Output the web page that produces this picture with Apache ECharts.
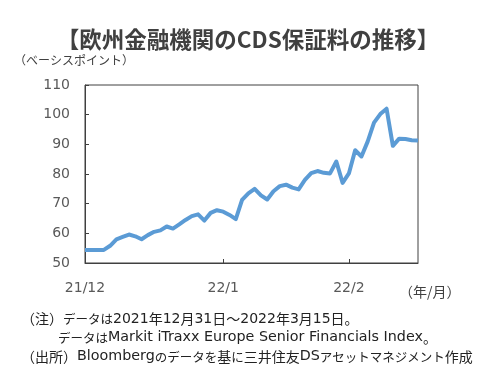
<!DOCTYPE html>
<html><head><meta charset="utf-8">
<script src="https://cdn.jsdelivr.net/npm/echarts@6/dist/echarts.min.js"></script>
<style>html,body{margin:0;padding:0;background:#fff}#c{width:496px;height:380px}</style>
</head><body><div id="c"></div>
<script>
// CDS spread (bp), 2021/12/31 - 2022/3/15
const cds = [54.4,54.4,54.4,54.4,55.8,58.0,58.8,59.6,59.0,58.0,
  59.4,60.5,61.0,62.3,61.6,63.0,64.5,65.8,66.4,64.3,
  66.9,67.8,67.3,66.2,64.8,71.3,73.5,75.0,72.8,71.4,
  74.2,75.9,76.4,75.4,74.8,78.0,80.3,81.0,80.4,80.2,
  84.2,77.0,80.2,88.0,85.9,91.0,97.3,100.2,102.0,89.5,
  91.9,91.8,91.4,91.3];
const tickIndex = [0, 22, 42];
const tickLabels = ['21/12', '22/1', '22/2'];
const categories = cds.map((_, i) => String(i));
const yMin = 50, yMax = 110, yStep = 10;

const noteLines = [
  '（注）データは2021年12月31日～2022年3月15日。',
  'データはMarkit iTraxx Europe Senior Financials Index。',
  '（出所）Bloombergのデータを基に三井住友DSアセットマネジメント作成'
];

const FONT = '"Noto Sans CJK JP", "Noto Sans", sans-serif';
const LFONT = '"DejaVu Sans", "Noto Sans CJK JP", sans-serif';

// split text into runs (kanji/punct, kana, digits, latin) for rich text
function richify(s) {
  const cls = (c) => /[\u3040-\u30ff]/.test(c) ? 'k' : /[0-9]/.test(c) ? 'd' : /[A-Za-z .]/.test(c) ? 'l' : 'j';
  let out = '', cur = null, buf = '';
  for (const c of s) {
    const t = cls(c);
    if (t !== cur) { if (buf) out += '{' + cur + '|' + buf + '}'; cur = t; buf = ''; }
    buf += c;
  }
  if (buf) out += '{' + cur + '|' + buf + '}';
  return out;
}
const noteRich = {
  j: {fontFamily: FONT, fontSize: 14, color: '#222', verticalAlign: 'bottom'},
  k: {fontFamily: FONT, fontSize: 12.5, color: '#222', verticalAlign: 'bottom'},
  d: {fontFamily: LFONT, fontSize: 14, color: '#222', verticalAlign: 'bottom'},
  l: {fontFamily: LFONT, fontSize: 14.3, color: '#222', verticalAlign: 'bottom'}
};
const noteTop = [312, 330, 349], noteLeft = [21, 58, 21];

const chart = echarts.init(document.getElementById('c'), null, {renderer: 'canvas'});
chart.setOption({
  animation: false,
  backgroundColor: '#fff',
  title: {
    text: '【欧州金融機関のCDS保証料の推移】',
    left: 'center', top: 23,
    textStyle: {fontFamily: FONT, fontSize: 22.5, fontWeight: 'bold', color: '#404040'}
  },
  grid: {left: 85, right: 78, top: 85, bottom: 117, show: true, borderColor: '#404040', borderWidth: 1},
  xAxis: {
    type: 'category', data: categories, boundaryGap: false,
    axisLine: {show: true, lineStyle: {color: '#404040'}},
    axisTick: {show: true, inside: true, length: 4, lineStyle: {color: '#404040'},
      interval: (i) => tickIndex.includes(i) && i > 0},
    axisLabel: {
      interval: (i) => tickIndex.includes(i),
      formatter: (v, i) => tickLabels[tickIndex.indexOf(i)] || '',
      margin: 18, fontFamily: LFONT, fontSize: 14, color: '#595959'
    },
    splitLine: {show: false}
  },
  yAxis: {
    type: 'value', min: yMin, max: yMax, interval: yStep,
    axisLine: {show: true, lineStyle: {color: '#404040'}},
    axisTick: {show: true, inside: true, length: 4, lineStyle: {color: '#404040'}},
    axisLabel: {margin: 15, fontFamily: LFONT, fontSize: 14, color: '#595959'},
    splitLine: {show: false}
  },
  graphic: [
    {type: 'text', left: 14, top: 54, style: {text: '（ベーシスポイント）', font: '12px ' + FONT, fill: '#404040'}},
    {type: 'text', left: 399, top: 285, style: {text: '（年/月）', font: '14px ' + FONT, fill: '#404040'}}
  ].concat(noteLines.map((t, i) => ({
    type: 'text', left: noteLeft[i], top: noteTop[i],
    style: {text: richify(t), rich: noteRich, fill: '#222'}
  }))),
  series: [{
    type: 'line', data: cds, symbol: 'none',
    lineStyle: {color: '#5B9BD5', width: 4, join: 'round'}
  }]
});
</script></body></html>
